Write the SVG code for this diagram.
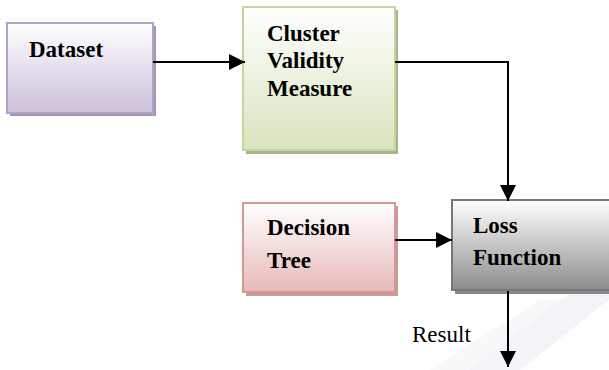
<svg xmlns="http://www.w3.org/2000/svg" width="609" height="370" viewBox="0 0 609 370">
<defs>
<linearGradient id="gP" x1="0" y1="0" x2="0" y2="1"><stop offset="0" stop-color="#ffffff"/><stop offset="1" stop-color="#ccc0da"/></linearGradient>
<linearGradient id="gG" x1="0" y1="0" x2="0" y2="1"><stop offset="0" stop-color="#ffffff"/><stop offset="1" stop-color="#d7e4bd"/></linearGradient>
<linearGradient id="gR" x1="0" y1="0" x2="0" y2="1"><stop offset="0" stop-color="#ffffff"/><stop offset="1" stop-color="#e6b9b8"/></linearGradient>
<linearGradient id="gK" x1="0" y1="0" x2="0" y2="1"><stop offset="0" stop-color="#ffffff"/><stop offset="1" stop-color="#8c8c8c"/></linearGradient>
<marker id="ah" markerWidth="16" markerHeight="16" refX="16" refY="8" orient="auto" markerUnits="userSpaceOnUse"><path d="M0,0 L16,8 L0,16 Z" fill="#000"/></marker>
<style>
.lbl{font-family:"Liberation Serif","Times New Roman",serif;font-weight:bold;font-size:23px;fill:#000}
.res{font-family:"Liberation Serif","Times New Roman",serif;font-size:23px;fill:#000}
.conn{stroke:#000;stroke-width:2;fill:none}
</style>
</defs>
<polygon points="455,370 520,370 609,300 609,268" fill="#f3f4f7"/>
<polygon points="430,370 470,370 560,300 540,300" fill="#f8f8fa"/>
<g id="dataset">
<rect x="10" y="26" width="146" height="90" fill="#a598ae"/>
<rect x="7" y="23" width="146" height="90" fill="url(#gP)" stroke="#b3a2c7" stroke-width="2"/>
<text class="lbl" x="29" y="57">Dataset</text>
</g>
<g id="cluster">
<rect x="246" y="10" width="152" height="144" fill="#a9b38f"/>
<rect x="243" y="7" width="152" height="143" fill="url(#gG)" stroke="#c3d69b" stroke-width="2"/>
<text class="lbl" x="267" y="41">Cluster</text>
<text class="lbl" x="267" y="68">Validity</text>
<text class="lbl" x="267" y="96">Measure</text>
</g>
<g id="decision">
<rect x="246" y="206" width="152" height="90" fill="#c49c9c"/>
<rect x="243" y="203" width="152" height="89" fill="url(#gR)" stroke="#d99694" stroke-width="2"/>
<text class="lbl" x="267" y="235">Decision</text>
<text class="lbl" x="267" y="268">Tree</text>
</g>
<g id="loss">
<rect x="455" y="203" width="160" height="91" fill="#8a8a8a"/>
<rect x="452" y="200" width="160" height="90" fill="url(#gK)" stroke="#777777" stroke-width="2"/>
<text class="lbl" x="473" y="233">Loss</text>
<text class="lbl" x="473" y="265">Function</text>
</g>
<g id="connectors">
<line class="conn" x1="153" y1="62" x2="245" y2="62" marker-end="url(#ah)"/>
<polyline class="conn" points="395,62 508,62 508,201" marker-end="url(#ah)"/>
<line class="conn" x1="395" y1="240" x2="452" y2="240" marker-end="url(#ah)"/>
<line class="conn" x1="508" y1="291" x2="508" y2="367" marker-end="url(#ah)"/>
</g>
<text class="res" x="412" y="342">Result</text>
</svg>
